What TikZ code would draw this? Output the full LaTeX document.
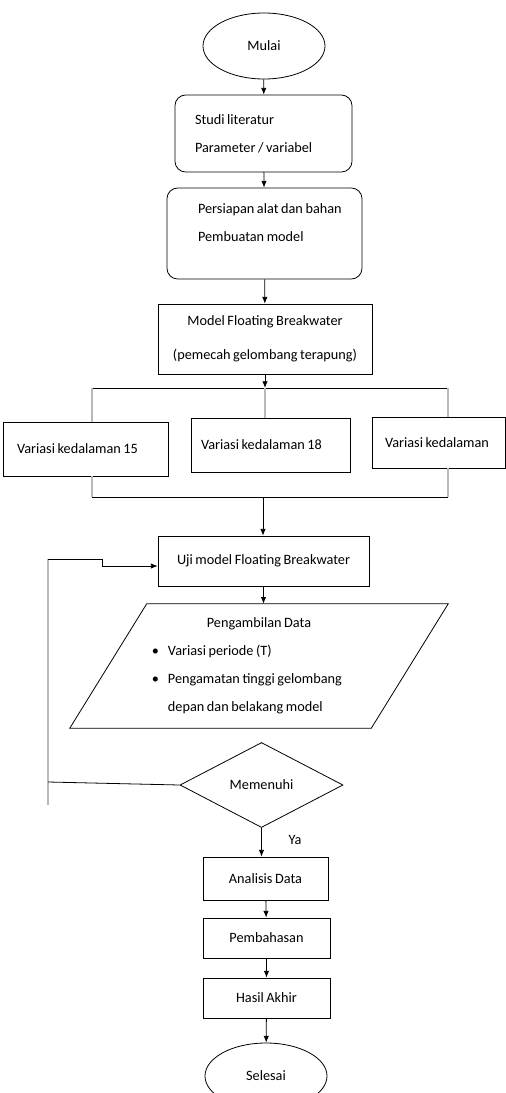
\documentclass[tikz,border=0pt]{standalone}
\usepackage{fontspec}
\setmainfont{Carlito}[WordSpace=0.8]
\usetikzlibrary{shapes.geometric}
\usetikzlibrary{arrows.meta}
\usetikzlibrary{calc}

\begin{document}
\begin{tikzpicture}[x=0.75pt,y=0.75pt,yscale=-1,xscale=1,
  flowbox/.style={draw,line width=0.6pt,inner sep=0pt,font=\fontsize{10.7}{21}\selectfont},
  roundbox/.style={flowbox,rounded corners=8pt},
  greyline/.style={draw={rgb,255:red,185;green,185;blue,185},line width=1.6pt},
  flowline/.style={line width=0.6pt},
  flowarrow/.style={line width=0.6pt,-{Latex[length=5pt,width=4pt]}}]
\useasboundingbox (0,0) rectangle (506,1093);
\clip (0,0) rectangle (506,1093);

%Shape: Ellipse [Mulai]
\node [flowbox,ellipse,minimum width=91.5pt,minimum height=49.5pt] (mulai) at (264,46) {Mulai};
%Shape: Rounded Rectangle [Studi]
\node [roundbox,align=flush left,text width=132.75pt,minimum height=57.75pt] (studi) at (263.5,133.5) {\hspace*{15pt}Studi literatur\\\hspace*{15pt}Parameter / variabel};
%Shape: Rounded Rectangle [Persiapan]
\node [roundbox,align=flush left,text width=146.25pt,minimum height=68.25pt] (persiapan) at (264.5,233.5) {\hspace*{23.25pt}Persiapan alat dan bahan\\\hspace*{23.25pt}Pembuatan model\\[-5pt]\mbox{}};
%Shape: Rectangle [Model]
\node [flowbox,align=center,minimum width=160.5pt,minimum height=52.5pt] (model) at (265,339) {Model Floating Breakwater\\[4.5pt](pemecah gelombang terapung)};

%Shape: Rectangle [Variasi]
\node [flowbox,align=flush left,text width=123.75pt,minimum height=40.5pt] (var1) at (85.5,449) {\hspace*{10.5pt}Variasi kedalaman 15};
\node [flowbox,align=flush left,text width=119.25pt,minimum height=40.5pt] (var2) at (270.5,445) {\hspace*{7.5pt}Variasi kedalaman 18};
\node [flowbox,align=flush left,text width=99.75pt,minimum height=38.25pt] (var3) at (438.5,442.5) {\hspace*{9.75pt}Variasi kedalaman};

%Shape: Rectangle [Uji]
\node [flowbox,minimum width=158.25pt,minimum height=37.5pt] (uji) at (263.5,561) {Uji model Floating Breakwater};

% Text Node [Pengambilan Data]
\node [font=\fontsize{10.7}{21}\selectfont,align=flush left,text width=225.75pt,inner sep=0pt,minimum height=93pt] (ambil) at (259,666) {\makebox[225.75pt]{Pengambilan Data}\\
\hspace*{32.6pt}\makebox[12pt][l]{\textbullet}Variasi periode (T)\\
\hspace*{32.6pt}\makebox[12pt][l]{\textbullet}Pengamatan tinggi gelombang\\
\hspace*{44.6pt}depan dan belakang model};
%Shape: Parallelogram
\draw [flowline] ($(ambil.north west)+(38.5,0)$) -- ($(ambil.north east)+(38.5,0)$) -- ($(ambil.south east)+(-38.5,0)$) -- ($(ambil.south west)+(-38.5,0)$) -- cycle;

%Shape: Diamond [Memenuhi]
\node [flowbox,diamond,minimum width=122.25pt,minimum height=63.75pt] (memenuhi) at (261.5,785) {Memenuhi};
% Text Node
\node [font=\fontsize{10.7}{21}\selectfont] (ya) at (295,840) {Ya};

%Shape: Rectangle [Analisis .. Hasil]
\node [flowbox,minimum width=93.75pt,minimum height=32.25pt] (analisis) at (265.5,878.5) {Analisis Data};
\node [flowbox,minimum width=95.25pt,minimum height=30pt] (bahas) at (266.5,938) {Pembahasan};
\node [flowbox,minimum width=95.25pt,minimum height=30pt] (hasil) at (266.5,998) {Hasil Akhir};
%Shape: Ellipse [Selesai]
\node [flowbox,ellipse,minimum width=91.5pt,minimum height=49.5pt] (selesai) at (266,1076) {Selesai};

%Coordinates of branch and feedback lines
\coordinate (splitL) at (92,388);
\coordinate (splitM) at (265,388);
\coordinate (splitR) at (448,388);
\coordinate (joinL) at (92,497);
\coordinate (joinM) at (263,497);
\coordinate (joinR) at (448,497);
\coordinate (fbT) at (48,559);
\coordinate (fbB) at (48,782);
\coordinate (fbEnd) at (48,805);
\coordinate (fbJ1) at (102,559);
\coordinate (fbJ2) at (102,566);

%Straight Lines
\draw [flowarrow] (mulai) -- (studi);
\draw [flowarrow] (studi) -- (persiapan);
\draw [flowarrow] (persiapan) -- (model);
\draw [flowarrow] (model.south) -- (model.south |- splitM);
\draw [flowline] (splitL) -- (splitR);
\draw [greyline] (splitL) -- (splitL |- var1.north);
\draw [greyline] (splitM) -- (splitM |- var2.north);
\draw [greyline] (splitR) -- (splitR |- var3.north);
\draw [greyline] (joinL |- var1.south) -- (joinL);
\draw [greyline] (joinR |- var3.south) -- (joinR);
\draw [flowline] (joinL) -- (joinR);
\draw [flowarrow] (joinM) -- (joinM |- uji.north);
\draw [flowarrow] (uji.south) -- (uji.south |- ambil.north);
%Feedback
\draw [greyline,line width=2pt] (fbT) -- (fbEnd);
\draw [flowline] (memenuhi.west) -- (fbB);
\draw [flowarrow] (fbT) -- (fbJ1) -- (fbJ2) -- (uji.west |- fbJ2);
\draw [flowarrow] (memenuhi.south) -- (memenuhi.south |- analisis.north);
\draw [flowarrow] (analisis) -- (bahas);
\draw [flowarrow] (bahas) -- (hasil);
\draw [flowarrow] (hasil) -- (selesai);

\end{tikzpicture}
\end{document}
